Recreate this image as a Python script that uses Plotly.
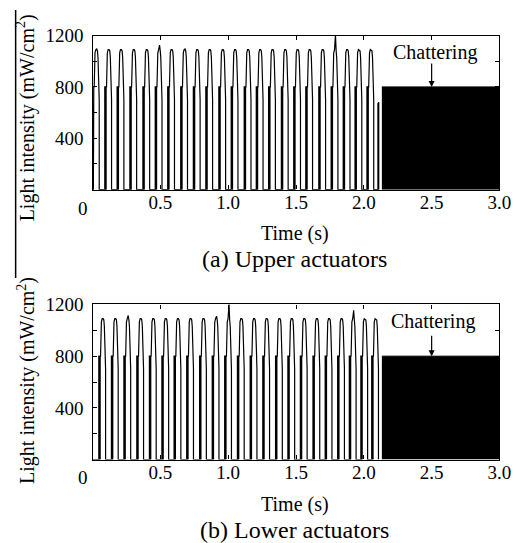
import plotly.graph_objects as go

W, H = 531, 543
FONT = "Liberation Serif"

# ---- data ----
# pulse peak times (s) and peak values (mW/cm^2)
top_peak_t = [0.031, 0.122, 0.213, 0.307, 0.403, 0.494, 0.586, 0.682, 0.775, 0.867, 0.963, 1.054,
              1.150, 1.239, 1.330, 1.424, 1.515, 1.604, 1.700, 1.791, 1.880, 1.967, 2.055]
top_peak_v = [1095, 1090, 1090, 1090, 1090, 1125, 1090, 1095, 1090, 1090, 1090, 1090,
              1090, 1090, 1090, 1090, 1090, 1090, 1090, 1205, 1090, 1085, 1080]
bot_peak_t = [0.078, 0.171, 0.263, 0.358, 0.451, 0.543, 0.633, 0.726, 0.821, 0.914, 1.006, 1.100,
              1.194, 1.287, 1.381, 1.472, 1.564, 1.657, 1.747, 1.839, 1.925, 2.010, 2.090]
bot_peak_v = [1090, 1090, 1115, 1090, 1090, 1090, 1090, 1090, 1090, 1110, 1205, 1090,
              1090, 1090, 1090, 1090, 1090, 1090, 1090, 1090, 1155, 1085, 1085]

# shape of one pulse: time offsets from the peak (s) and levels (mW/cm^2)
pulse_dt = [-0.032, -0.032, -0.030, -0.030,
            -0.025, -0.025, -0.024, -0.024, -0.022, -0.022,
            -0.019, -0.017, -0.013, -0.007, 0.0, 0.005, 0.009, 0.012, 0.015, 0.018, 0.018]
pulse_y = [0, 800, 800, 0,
           0, 450, 450, 0, 0, 800,
           800, 990, 1065, 1090, 1095, 1080, 1030, 920, 780, 700, 0]

# short rise just before chattering (top panel)
top_pre_t = [2.104, 2.104, 2.110, 2.110]
top_pre_v = [0, 670, 680, 0]

# chattering band (switching between 0 and 800 too fast to resolve)
chatter_t = [2.133, 3.0]
chatter_v = [800, 800]

x_tick_vals = [0.5, 1.0, 1.5, 2.0, 2.5, 3.0]
x_tick_text = ["0.5", "1.0", "1.5", "2.0", "2.5", "3.0"]
x_zero_label = "0"
y_tick_vals = [400, 800, 1200]
y_tick_text = ["400", "800", "1200"]
y_minor_vals = [200, 600, 1000]

captions = ["(a) Upper actuators", "(b) Lower actuators"]


def build(peak_t, peak_v):
    xs, ys = [0.0], [0.0]
    for t, v in zip(peak_t, peak_v):
        for dt, y in zip(pulse_dt, pulse_y):
            if dt == 0.0:
                y = v
            xs.append(t + dt)
            ys.append(y)
    return xs, ys


fig = go.Figure()

tx, ty = build(top_peak_t, top_peak_v)
fig.add_trace(go.Scatter(x=tx + top_pre_t, y=ty + top_pre_v, mode="lines",
                         line=dict(color="black", width=1.2), xaxis="x", yaxis="y"))
fig.add_trace(go.Scatter(x=chatter_t, y=chatter_v, mode="lines", fill="tozeroy",
                         fillcolor="black", line=dict(color="black", width=1),
                         xaxis="x", yaxis="y"))

bx, by = build(bot_peak_t, bot_peak_v)
fig.add_trace(go.Scatter(x=bx, y=by, mode="lines",
                         line=dict(color="black", width=1.2), xaxis="x2", yaxis="y2"))
fig.add_trace(go.Scatter(x=chatter_t, y=chatter_v, mode="lines", fill="tozeroy",
                         fillcolor="black", line=dict(color="black", width=1),
                         xaxis="x2", yaxis="y2"))


def px(x):
    return x / W


def py(y):
    return 1 - y / H


xdom = [px(94.7), px(511)]
ax_common = dict(showline=True, linecolor="black", linewidth=1.3, mirror="ticks",
                 ticks="inside", ticklen=4, tickwidth=1, tickcolor="black",
                 showgrid=False, zeroline=False,
                 tickfont=dict(family=FONT, size=19, color="black"))
y_minor = dict(tickvals=y_minor_vals, ticks="inside", ticklen=4, tickwidth=1,
               tickcolor="black", showgrid=False)

fig.update_layout(
    width=W, height=H, margin=dict(l=0, r=0, t=0, b=0),
    paper_bgcolor="white", plot_bgcolor="white", showlegend=False,
    xaxis=dict(domain=xdom, range=[0, 3], autorange=False, anchor="y", tickvals=x_tick_vals,
               ticktext=x_tick_text, ticklabelstandoff=-5, **ax_common),
    yaxis=dict(domain=[py(183), py(26)], range=[0, 1200], autorange=False, anchor="x",
               tickvals=y_tick_vals, ticktext=y_tick_text, ticklabelstandoff=4,
               minor=y_minor, **ax_common),
    xaxis2=dict(domain=xdom, range=[0, 3], autorange=False, anchor="y2", tickvals=x_tick_vals,
                ticktext=x_tick_text, ticklabelstandoff=-5, **ax_common),
    yaxis2=dict(domain=[py(458), py(300)], range=[0, 1200], autorange=False, anchor="x2",
                tickvals=y_tick_vals, ticktext=y_tick_text, ticklabelstandoff=4,
                minor=y_minor, **ax_common),
)

ann = []
panels = [
    dict(xr="x", yr="y", zero_y=202, time_y=228, cap_y=254, title_y=110,
         chat=(445, 43), arrow_ay=-25),
    dict(xr="x2", yr="y2", zero_y=476, time_y=504, cap_y=530, title_y=377.5,
         chat=(442.6, 317.4), arrow_ay=-22),
]
for i, p in enumerate(panels):
    ann.append(dict(x=px(85), y=py(p["zero_y"]), xref="paper", yref="paper", text=x_zero_label,
                    showarrow=False, xanchor="center", yanchor="middle",
                    font=dict(family=FONT, size=19, color="black")))
    ann.append(dict(x=px(302), y=py(p["time_y"]), xref="paper", yref="paper", text="Time (s)",
                    showarrow=False, xanchor="center", yanchor="middle",
                    font=dict(family=FONT, size=20, color="black")))
    ann.append(dict(x=px(301), y=py(p["cap_y"]), xref="paper", yref="paper", text=captions[i],
                    showarrow=False, xanchor="center", yanchor="middle",
                    font=dict(family=FONT, size=24, color="black")))
    ann.append(dict(x=px(27), y=py(p["title_y"]), xref="paper", yref="paper",
                    text="Light intensity (mW/cm<sup>2</sup>)", textangle=-90,
                    showarrow=False, xanchor="center", yanchor="middle",
                    font=dict(family=FONT, size=20, color="black")))
    ann.append(dict(x=px(p["chat"][0]), y=py(p["chat"][1]), xref="paper", yref="paper",
                    text="Chattering", showarrow=False, xanchor="center", yanchor="middle",
                    font=dict(family=FONT, size=20, color="black")))
    ann.append(dict(x=2.5, y=800, xref=p["xr"], yref=p["yr"], text="", showarrow=True,
                    ax=0, ay=p["arrow_ay"], arrowhead=2, arrowsize=1, arrowwidth=1.2,
                    arrowcolor="black", standoff=0))

fig.update_layout(annotations=ann)

# scanning artefact line at the left edge
fig.add_shape(type="line", xref="paper", yref="paper", x0=px(16), x1=px(16),
              y0=py(0), y1=py(273), line=dict(color="black", width=1.5))

fig.write_html("out.html")
